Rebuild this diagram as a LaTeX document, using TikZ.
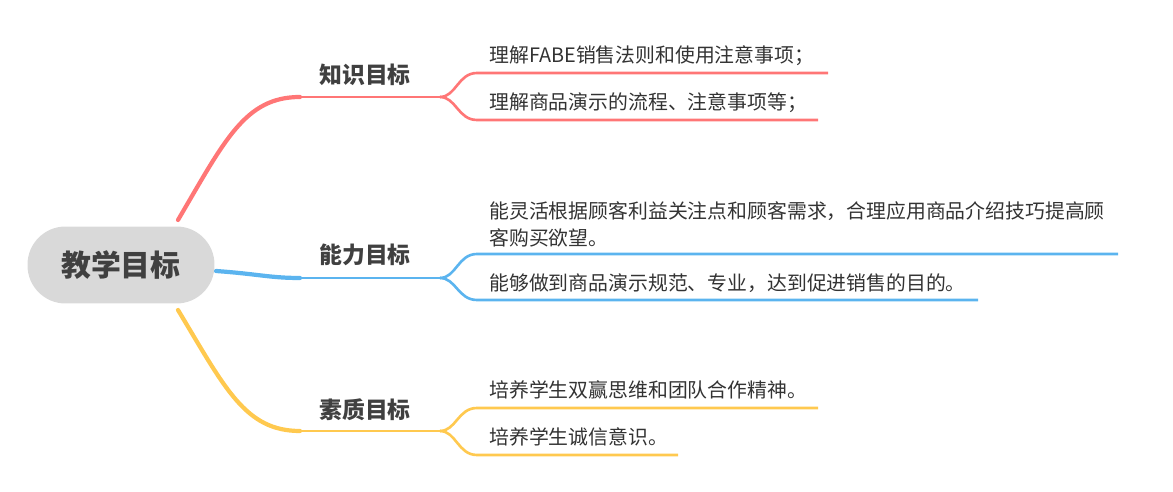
\documentclass[tikz,border=0pt]{standalone}
\usepackage{fontspec}
\setmainfont{Noto Sans CJK SC}
\usetikzlibrary{positioning}
\definecolor{rootgray}{HTML}{D9D9D9}
\definecolor{labelgray}{HTML}{404040}
\definecolor{leafgray}{HTML}{333333}
\definecolor{knowred}{HTML}{FF7676}
\definecolor{skillblue}{HTML}{5BB4EF}
\definecolor{qualyellow}{HTML}{FFC94F}
\tikzset{
  rootbox/.style={rectangle, rounded corners=0.76cm, fill=rootgray, minimum width=3.74cm, minimum height=1.54cm, text=labelgray, font=\fontsize{17}{20}\selectfont\bfseries},
  branchlabel/.style={text=labelgray, font=\fontsize{13}{16}\selectfont\bfseries, inner sep=0pt},
  leaftext/.style={anchor=west, text=leafgray, inner sep=0pt, align=left, font=\fontsize{11.3}{15.3}\selectfont},
  mainline/.style={line width=2.4pt, line cap=round},
  subline/.style={line width=1.5pt}
}
\begin{document}
\begin{tikzpicture}[x=0.02cm, y=-0.02cm]
    \useasboundingbox (0,0) rectangle (1173,492);

    % curve anchors
    \coordinate (kstart) at (178,220);
    \coordinate (kbase) at (300,97);
    \coordinate (kfork) at (440,97);
    \coordinate (astart) at (216,271);
    \coordinate (abase) at (300,278);
    \coordinate (afork) at (440,278);
    \coordinate (qstart) at (178,310);
    \coordinate (qbase) at (300,431);
    \coordinate (qfork) at (440,431);

    % main branches
    \draw[mainline, knowred] (kstart) .. controls (225,140) and (245,97) .. (kbase);
    \draw[subline, knowred] (kbase) -- (kfork);
    \draw[mainline, skillblue] (astart) .. controls (258,274) and (270,278) .. (abase);
    \draw[subline, skillblue] (abase) -- (afork);
    \draw[mainline, qualyellow] (qstart) .. controls (225,388) and (245,431) .. (qbase);
    \draw[subline, qualyellow] (qbase) -- (qfork);

    \node (root) [rootbox] at (121,265) {教学目标};

    \node (know) [branchlabel] at (365,75) {知识目标};
    \node (skill) [branchlabel] at (365,255) {能力目标};
    \node (qual) [branchlabel] at (365,410) {素质目标};

    % leaves
    \node (k1) [leaftext] at (489,56) {理解FABE销售法则和使用注意事项；};
    \node (k2) [leaftext] at (489,103) {理解商品演示的流程、注意事项等；};
    \node (a1) [leaftext] at (489,224.5) {能灵活根据顾客利益关注点和顾客需求，合理应用商品介绍技巧提高顾\\客购买欲望。};
    \node (a2) [leaftext] at (489,283) {能够做到商品演示规范、专业，达到促进销售的目的。};
    \node (q1) [leaftext] at (489,390) {培养学生双赢思维和团队合作精神。};
    \node (q2) [leaftext] at (489,437) {培养学生诚信意识。};

    % leaf underlines
    \coordinate (k1end) at (828,73);
    \coordinate (k2end) at (818,120);
    \coordinate (a1end) at (1118,254);
    \coordinate (a2end) at (978,300);
    \coordinate (q1end) at (818,408);
    \coordinate (q2end) at (678,455);

    \draw[subline, knowred] (kfork) .. controls (456,97) and (458,73) .. (477,73) -- (k1end);
    \draw[subline, knowred] (kfork) .. controls (456,97) and (458,120) .. (477,120) -- (k2end);
    \draw[subline, skillblue] (afork) .. controls (456,278) and (458,254) .. (477,254) -- (a1end);
    \draw[subline, skillblue] (afork) .. controls (456,278) and (458,300) .. (477,300) -- (a2end);
    \draw[subline, qualyellow] (qfork) .. controls (456,431) and (458,408) .. (477,408) -- (q1end);
    \draw[subline, qualyellow] (qfork) .. controls (456,431) and (458,455) .. (477,455) -- (q2end);
\end{tikzpicture}
\end{document}
